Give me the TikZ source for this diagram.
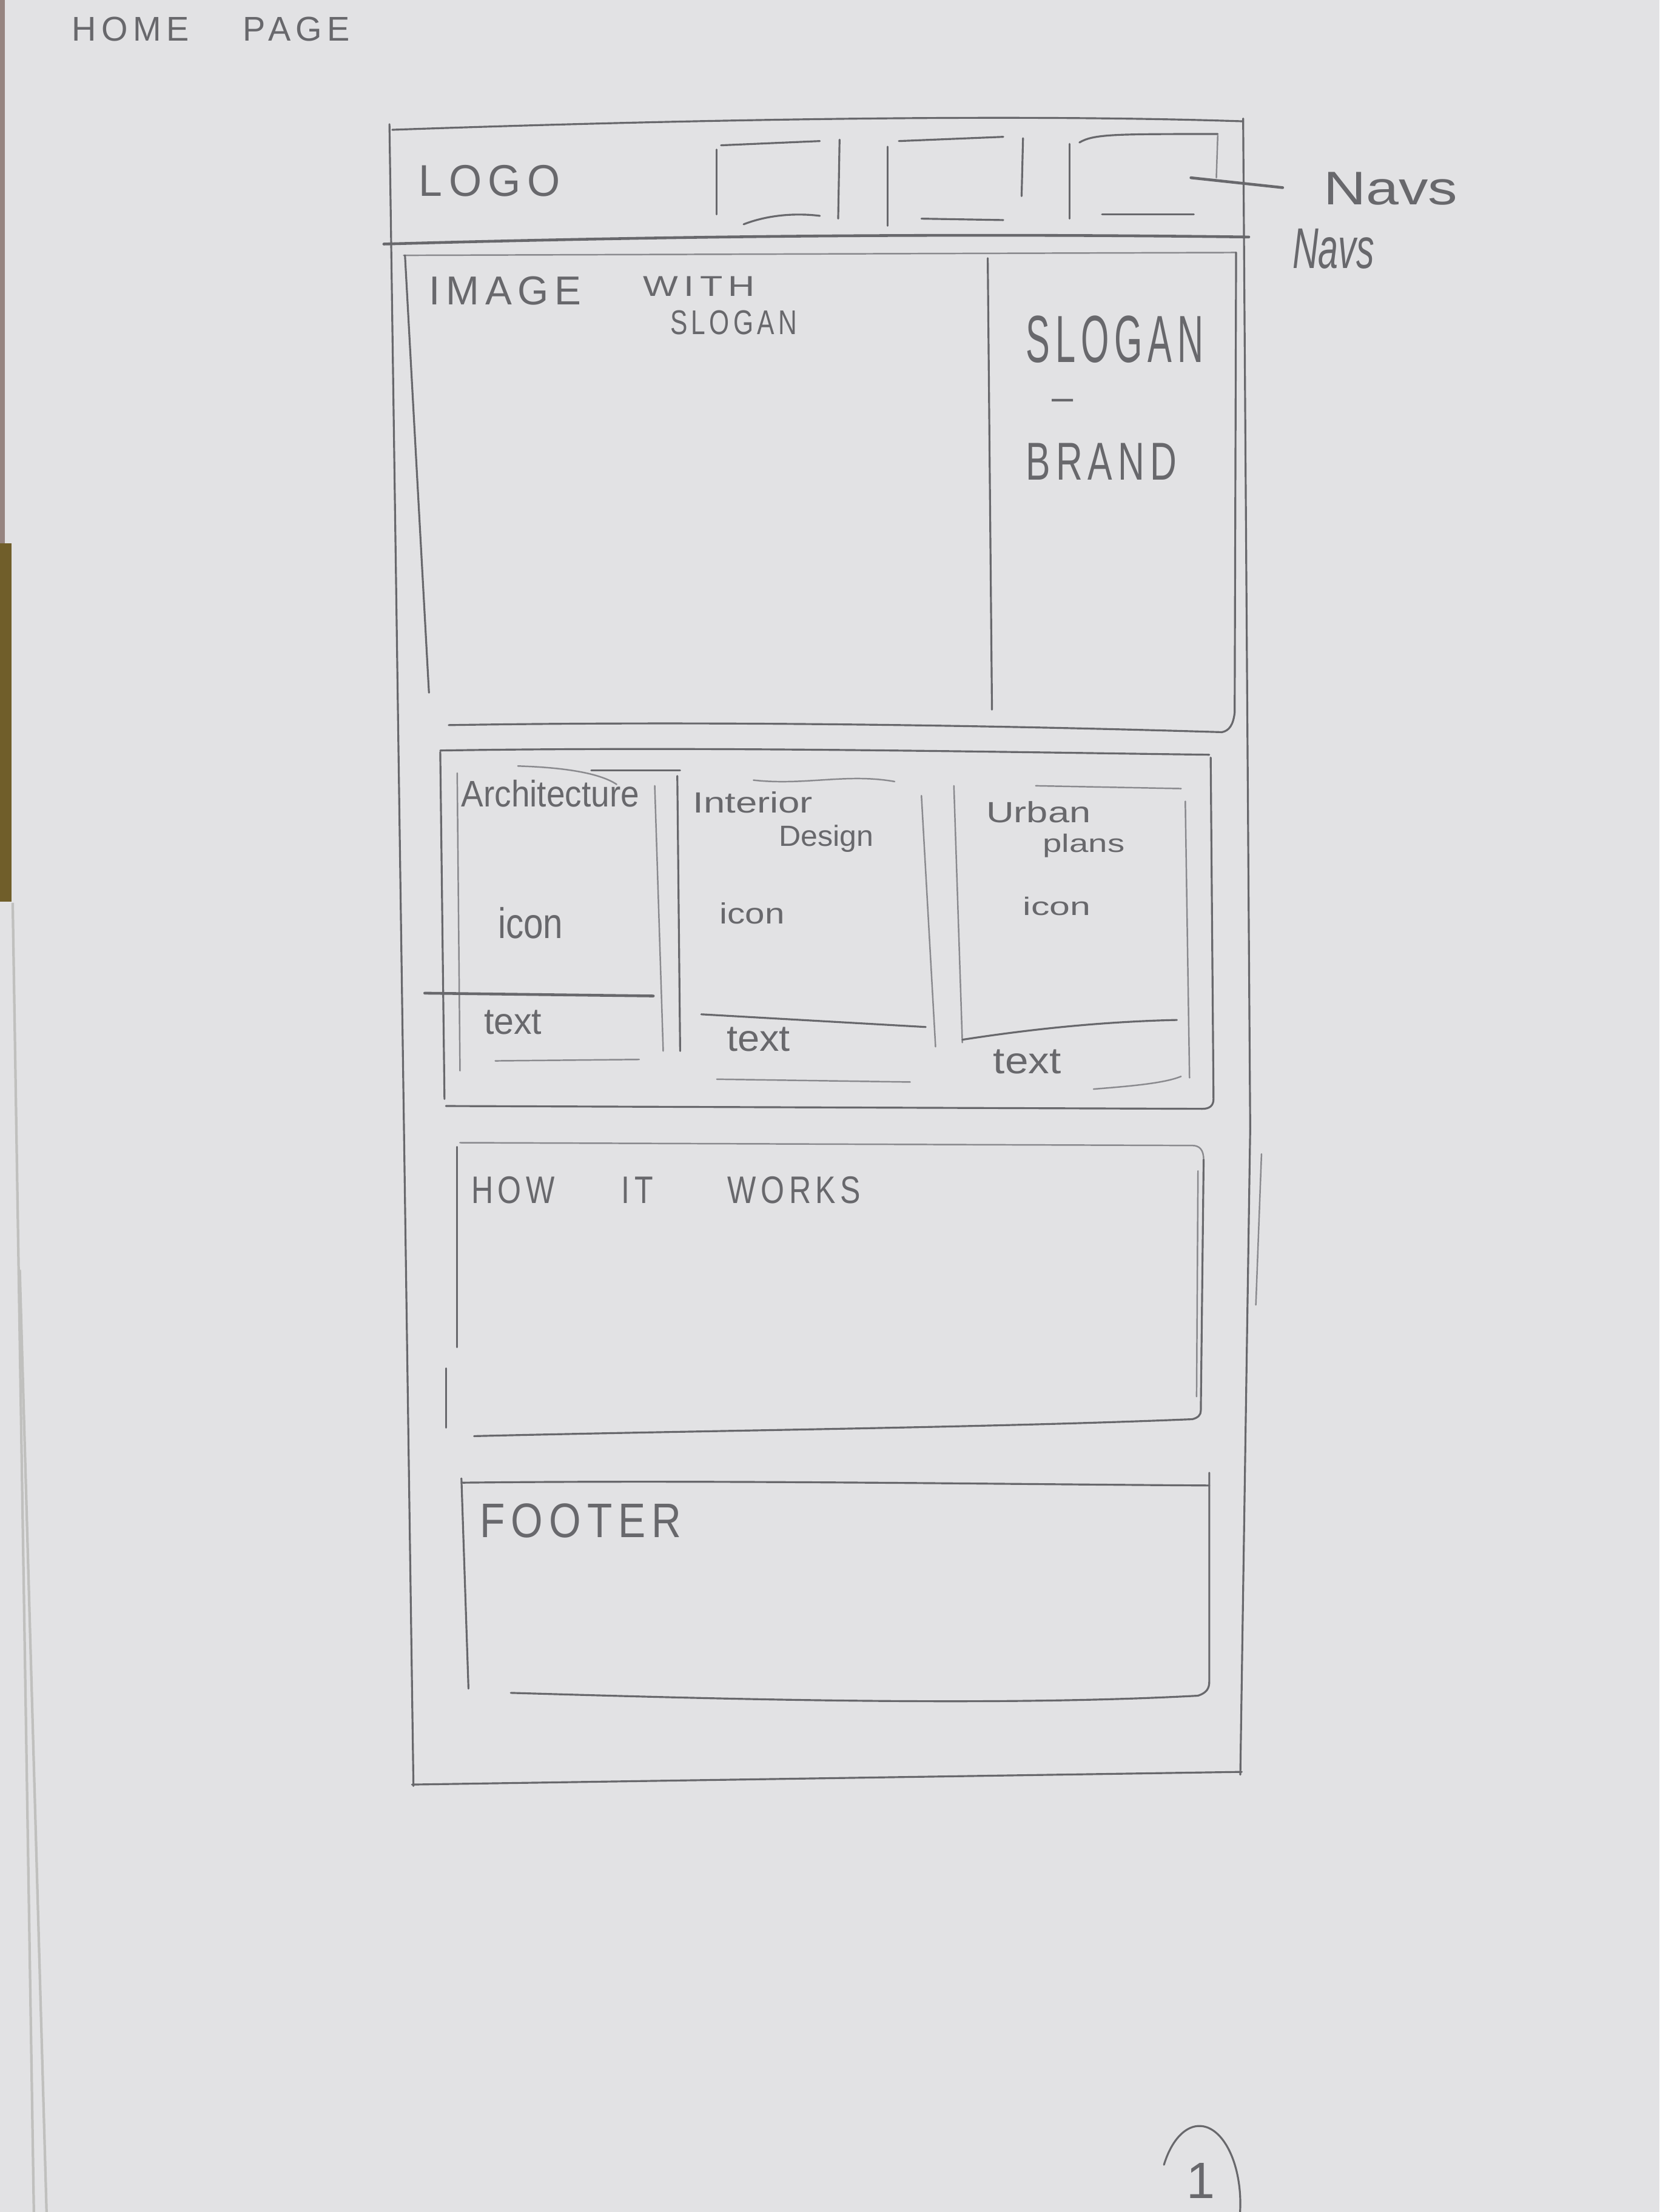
\documentclass[tikz,border=0pt]{standalone}
\usepackage{fontspec}
\setmainfont{Liberation Sans}
\newfontfamily\capsfont[LetterSpace=15]{Liberation Sans}
\newfontfamily\handfont{Liberation Sans}
\usepackage{graphicx}
% one drawing unit, so that label boxes can be sized in the same units as the paths
\newlength{\pu}\setlength{\pu}{0.023265cm}
\newcommand{\fit}[3]{\resizebox{#1\pu}{#2\pu}{#3}}

\definecolor{paper}{RGB}{226,226,228}
\definecolor{pencil}{RGB}{104,104,108}
\definecolor{pencillight}{RGB}{138,138,142}
\definecolor{desk}{RGB}{112,94,42}
\definecolor{deskdark}{RGB}{150,132,128}
\definecolor{sheetedge}{RGB}{192,192,190}

\begin{document}
\begin{tikzpicture}[x=0.023265cm, y=-0.023265cm,
  sk/.style={draw=pencil, line width=0.9pt, line cap=round, line join=round},
  skl/.style={draw=pencillight, line width=0.7pt, line cap=round, line join=round},
  skd/.style={draw=pencil, line width=1.3pt, line cap=round, line join=round},
  lbl/.style={inner sep=0pt, outer sep=0pt, anchor=base west, text=pencil}]

% sheet of paper, with the desk and the sheets below showing at the left edge
\fill[paper] (0,0) rectangle (1176,1568);
\useasboundingbox (0,0) rectangle (1176,1568);
\fill[deskdark] (0,0) rectangle (3.5,385);
\fill[desk] (0,385) rectangle (8,639);
\draw[sheetedge, line width=1.2pt] (9,640) -- (24,1568);
\draw[sheetedge, line width=1.2pt] (14,900) -- (33,1568);

% page title
\node[lbl] (title) at (51,29) {\fit{197}{17}{\capsfont HOME\hspace{1.6em}PAGE}};

% outer page frame
\draw[sk] (278,92) .. controls (450,86) and (700,80) .. (881,86);
\draw[sk] (276,88) -- (293,1266);
\draw[sk] (881,84) -- (886,800) -- (879,1258);
\draw[skl] (894,818) -- (890,925);
\draw[sk] (292,1265) -- (880,1256);

% header bar
\draw[skd] (272,173) .. controls (450,168) and (650,165) .. (885,168);
\node[lbl] (logo) at (297,139) {\fit{100}{22}{\capsfont LOGO}};

% navigation boxes
\draw[sk] (508,106) -- (508,152);
\draw[sk] (511,103) -- (581,100);
\draw[sk] (595,99) -- (594,155);
\draw[sk] (527,159) .. controls (545,152) and (565,151) .. (581,153);

\draw[sk] (629,104) -- (629,160);
\draw[sk] (637,100) -- (711,97);
\draw[sk] (725,98) -- (724,139);
\draw[sk] (653,155) -- (711,156);

\draw[sk] (758,102) -- (758,155);
\draw[sk] (765,101) .. controls (775,95) and (790,95) .. (863,95);
\draw[skl] (863,96) -- (862,126);
\draw[sk] (781,152) -- (846,152);

% pointer to the navigation note
\coordinate (navptr) at (844,126);
\coordinate (navend) at (909,133);
\draw[skd] (navptr) -- (navend);
\node[lbl] (navsA) at (938,145) {\fit{95}{23}{\handfont Navs}};
\node[lbl] (navsB) at (916,190) {\fit{58}{28}{\handfont\itshape Navs}};

% hero section
\draw[skl] (286,181) -- (876,179);
\draw[sk] (287,181) -- (304,491);
\draw[sk] (876,179) -- (875,505) .. controls (874,514) and (871,518) .. (866,519);
\draw[sk] (318,514) .. controls (500,511) and (700,514) .. (866,519);
\draw[sk] (700,183) -- (703,503);
\node[lbl] (image) at (304,216) {\fit{108}{20}{\capsfont IMAGE}};
\node[lbl] (with) at (456,210) {\fit{79}{14}{\capsfont WITH}};
\node[lbl] (slogansmall) at (475,237) {\fit{90}{17}{\capsfont SLOGAN}};
\node[lbl] (slogan) at (727,257) {\fit{126}{33}{\capsfont SLOGAN}};
\node[inner sep=0pt, text=pencil] (dash) at (753,287) {\fontsize{18}{18}\selectfont –};
\node[lbl] (brand) at (727,340) {\fit{107}{26}{\capsfont BRAND}};

% services section
\draw[sk] (312,532) .. controls (500,529) and (700,533) .. (857,535);
\draw[sk] (312,533) -- (315,779);
\draw[sk] (858,537) -- (860,779) .. controls (860,784) and (857,786) .. (852,786);
\draw[sk] (316,784) -- (852,786);

% card: architecture
\draw[skl] (367,543) .. controls (400,544) and (425,548) .. (437,556);
\draw[sk] (419,546) -- (482,546);
\draw[skl] (324,548) -- (326,759);
\draw[skl] (464,557) -- (470,745);
\draw[skd] (301,704) -- (463,706);
\draw[skl] (351,752) -- (453,751);
\node[lbl] (arch) at (327,572) {\fit{126}{19}{\handfont Architecture}};
\node[lbl] (iconA) at (353,665) {\fit{46}{22}{\handfont icon}};
\node[lbl] (textA) at (343,733) {\fit{41}{17}{\handfont text}};

% card: interior design
\draw[skl] (534,553) .. controls (570,557) and (600,548) .. (634,554);
\draw[sk] (480,550) -- (482,745);
\draw[skl] (653,564) -- (663,742);
\draw[sk] (497,719) -- (656,728);
\draw[skl] (508,765) -- (645,767);
\node[lbl] (interior) at (491,576) {\fit{85}{15}{\handfont Interior}};
\node[lbl] (design) at (552,600) {\fit{67}{15}{\handfont Design}};
\node[lbl] (iconB) at (510,655) {\fit{46}{15}{\handfont icon}};
\node[lbl] (textB) at (515,745) {\fit{45}{17}{\handfont text}};

% card: urban plans
\draw[skl] (734,557) -- (837,559);
\draw[skl] (676,557) -- (682,739);
\draw[skl] (840,568) -- (843,764);
\draw[sk] (682,737) .. controls (740,728) and (790,724) .. (834,723);
\draw[skl] (775,772) .. controls (800,770) and (825,768) .. (837,763);
\node[lbl] (urban) at (699,583) {\fit{74}{15}{\handfont Urban}};
\node[lbl] (plans) at (739,604) {\fit{58}{13}{\handfont plans}};
\node[lbl] (iconC) at (725,649) {\fit{48}{13}{\handfont icon}};
\node[lbl] (textC) at (704,761) {\fit{48}{17}{\handfont text}};

% how it works section
\draw[skl] (326,810) -- (845,812) .. controls (850,812) and (853,815) .. (853,822);
\draw[sk] (324,813) -- (324,955);
\draw[sk] (316,970) -- (316,1012);
\draw[sk] (853,822) -- (851,1000);
\draw[skl] (849,830) -- (848,990);
\draw[sk] (336,1018) .. controls (500,1014) and (700,1012) .. (845,1006) .. controls (849,1005) and (851,1003) .. (851,1000);
\node[lbl] (how) at (334,853) {\fit{276}{19}{\capsfont HOW\hspace{2.2em}IT\hspace{2.45em}WORKS}};

% footer section
\draw[sk] (328,1051) .. controls (500,1049) and (700,1052) .. (857,1053);
\draw[sk] (327,1048) -- (332,1197);
\draw[sk] (857,1044) -- (857,1192) .. controls (857,1197) and (855,1200) .. (849,1202);
\draw[sk] (362,1200) .. controls (500,1204) and (700,1210) .. (849,1202);
\node[lbl] (footer) at (340,1090) {\fit{143}{24}{\capsfont FOOTER}};

% page number
\draw[sk] plot[domain=-172:150, samples=90, smooth] ({850+29*cos(\x)}, {1562-55*sin(\x)});
\node[inner sep=0pt, text=pencil] (pagenum) at (851,1546) {\fontsize{24}{24}\selectfont 1};
\end{tikzpicture}
\end{document}
